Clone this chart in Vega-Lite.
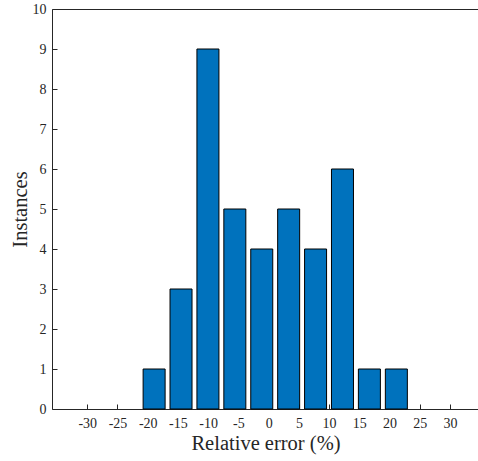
{
  "$schema": "https://vega.github.io/schema/vega-lite/v6.json",
  "width": 427,
  "height": 400,
  "autosize": {"type": "none"},
  "padding": {"left": 52, "top": 9, "right": 0, "bottom": 52},
  "background": "white",
  "config": {
    "view": {"stroke": "#262626", "strokeWidth": 1},
    "axis": {
      "domain": false,
      "labelFont": "Liberation Serif",
      "titleFont": "Liberation Serif",
      "labelColor": "#262626",
      "titleColor": "#262626",
      "labelFontSize": 14,
      "titleFontSize": 20.5,
      "titleFontWeight": "normal",
      "labelOverlap": false,
      "grid": false,
      "ticks": true,
      "tickColor": "#262626",
      "tickWidth": 1,
      "tickSize": 5,
      "offset": -5,
      "zindex": 1
    }
  },
  "data": {
    "values": [
      {"err": -18.94, "n": 1},
      {"err": -14.49, "n": 3},
      {"err": -10.04, "n": 9},
      {"err": -5.59, "n": 5},
      {"err": -1.14, "n": 4},
      {"err": 3.31, "n": 5},
      {"err": 7.76, "n": 4},
      {"err": 12.21, "n": 6},
      {"err": 16.66, "n": 1},
      {"err": 21.12, "n": 1}
    ]
  },
  "mark": {"type": "bar", "size": 22, "color": "#0072BD", "stroke": "#000000", "strokeWidth": 1},
  "encoding": {
    "x": {
      "field": "err", "type": "quantitative",
      "scale": {"domain": [-35, 33.96], "nice": false, "zero": false},
      "axis": {
        "values": [-30, -25, -20, -15, -10, -5, 0, 5, 10, 15, 20, 25, 30],
        "labelExpr": "'' + datum.value",
        "labelPadding": 7,
        "title": "Relative error (%)",
        "titlePadding": 3
      }
    },
    "y": {
      "field": "n", "type": "quantitative",
      "scale": {"domain": [0, 10], "nice": false},
      "axis": {
        "values": [0, 1, 2, 3, 4, 5, 6, 7, 8, 9, 10],
        "labelPadding": 6,
        "title": "Instances",
        "titlePadding": 2
      }
    }
  }
}
